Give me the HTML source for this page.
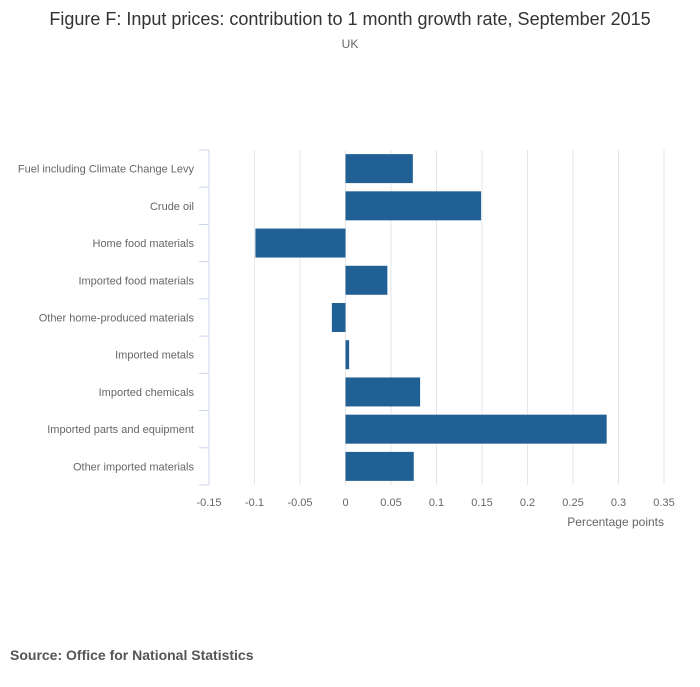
<!DOCTYPE html>
<html><head><meta charset="utf-8"><style>
body{margin:0;background:#fff;font-family:"Liberation Sans",sans-serif;}
svg text{font-family:"Liberation Sans",sans-serif;}
</style></head><body>
<svg width="700" height="682">
<text x="350" y="25" text-anchor="middle" font-size="18" fill="#333">Figure F: Input prices: contribution to 1 month growth rate, September 2015</text>
<text x="350" y="48" text-anchor="middle" font-size="12" fill="#666">UK</text>
<g id="grid"></g><g id="bars"></g><g id="yaxis"></g><g id="xaxis"></g>
<text x="664" y="526" text-anchor="end" font-size="12" fill="#666">Percentage points</text>
<text x="10" y="660" font-size="14" font-weight="bold" fill="#555">Source: Office for National Statistics</text>
</svg>
<script>
const categories=["Fuel including Climate Change Levy","Crude oil","Home food materials","Imported food materials","Other home-produced materials","Imported metals","Imported chemicals","Imported parts and equipment","Other imported materials"];
const values=[0.074,0.149,-0.099,0.046,-0.015,0.004,0.082,0.287,0.075];
const ticks=[-0.15,-0.1,-0.05,0,0.05,0.1,0.15,0.2,0.25,0.3,0.35];
const tickLabels=["-0.15","-0.1","-0.05","0","0.05","0.1","0.15","0.2","0.25","0.3","0.35"];
const NS="http://www.w3.org/2000/svg";
const x0=209,x1=664,yTop=150,yBottom=485;
const xs=v=>x0+(v-(-0.15))/(0.5)*(x1-x0);
const band=(yBottom-yTop)/categories.length;
function mk(t,a,p){const e=document.createElementNS(NS,t);for(const k in a)e.setAttribute(k,a[k]);document.getElementById(p).appendChild(e);return e;}
ticks.forEach((t,i)=>{
 const g=mk("line",{x1:xs(t),x2:xs(t),y1:yTop,y2:yBottom,stroke:"#e6e6e6"},"grid");
 
 
 const l=mk("text",{x:xs(t),y:506,"text-anchor":"middle","font-size":11,fill:"#666"},"xaxis");
 l.textContent=tickLabels[i];
 
 
});
const ax=mk("line",{x1:x0,x2:x0,y1:yTop,y2:yBottom,stroke:"#ccd6eb"},"yaxis");


for(let i=0;i<=categories.length;i++){
 const tk=mk("line",{x1:x0-10,x2:x0,y1:yTop+i*band,y2:yTop+i*band,stroke:"#ccd6eb"},"yaxis");
 
 
}
categories.forEach((c,i)=>{
 const cy=yTop+(i+0.5)*band;
 const l=mk("text",{x:194,y:cy+4,"text-anchor":"end","font-size":11,fill:"#666"},"yaxis");
 l.textContent=c;
 
 
 const v=values[i];
 const a=xs(Math.min(0,v)),b=xs(Math.max(0,v));
 const r=mk("rect",{x:a,y:cy-14.5,width:Math.max(b-a,0.5),height:29,fill:"#206095"},"bars");
 
 
});
</script>
</body></html>
